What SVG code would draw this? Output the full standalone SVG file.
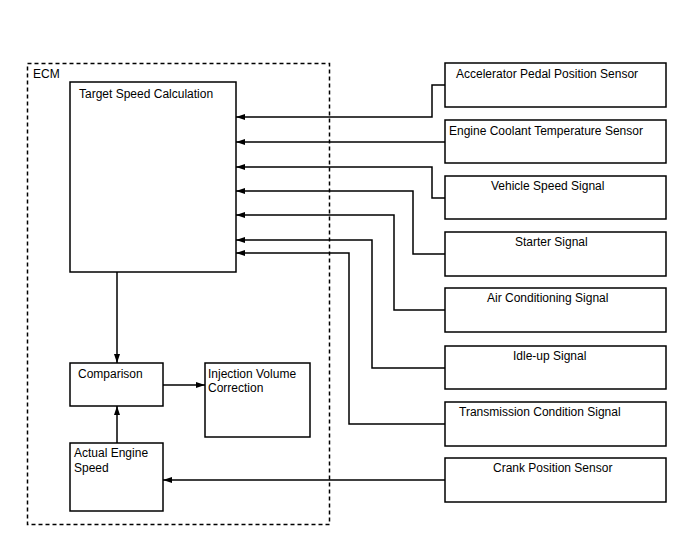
<svg xmlns="http://www.w3.org/2000/svg" width="688" height="560" viewBox="0 0 688 560">
<style>
.box{fill:#fff;stroke:#000;stroke-width:1.5}
.ecm{fill:none;stroke:#000;stroke-width:1.5;stroke-dasharray:4 3}
.t{font-family:"Liberation Sans",Arial,sans-serif;font-size:12px;fill:#000}
.c{fill:none;stroke:#000;stroke-width:1.5}
.a{marker-end:url(#ah)}
</style>
<defs>
<marker id="ah" markerWidth="10" markerHeight="8" refX="9" refY="4" orient="auto" markerUnits="userSpaceOnUse">
<path d="M0,1 L9,4 L0,7 Z" fill="#000"/>
</marker>
</defs>
<rect width="688" height="560" fill="#fff"/>
<g id="ecm">
<rect class="ecm" x="27.5" y="63.5" width="302" height="461"/>
<text class="t" x="33" y="78">ECM</text>
</g>
<g id="target">
<rect class="box" x="70" y="82" width="166" height="190"/>
<text class="t" x="79" y="98">Target Speed Calculation</text>
</g>
<g id="comparison">
<rect class="box" x="70" y="363" width="93" height="43"/>
<text class="t" x="78" y="378">Comparison</text>
</g>
<g id="injection">
<rect class="box" x="205" y="363" width="105" height="74"/>
<text class="t" x="208" y="378">Injection Volume</text>
<text class="t" x="208" y="392">Correction</text>
</g>
<g id="actual">
<rect class="box" x="70" y="443" width="93" height="68"/>
<text class="t" x="74" y="457">Actual Engine</text>
<text class="t" x="74" y="472">Speed</text>
</g>
<g id="s1">
<rect class="box" x="445" y="63" width="221" height="44"/>
<text class="t" x="456" y="78">Accelerator Pedal Position Sensor</text>
</g>
<g id="s2">
<rect class="box" x="445" y="120" width="221" height="43"/>
<text class="t" x="449" y="135">Engine Coolant Temperature Sensor</text>
</g>
<g id="s3">
<rect class="box" x="445" y="176" width="221" height="43"/>
<text class="t" x="491" y="190">Vehicle Speed Signal</text>
</g>
<g id="s4">
<rect class="box" x="445" y="232" width="221" height="44"/>
<text class="t" x="515" y="246">Starter Signal</text>
</g>
<g id="s5">
<rect class="box" x="445" y="288" width="221" height="44"/>
<text class="t" x="487" y="302">Air Conditioning Signal</text>
</g>
<g id="s6">
<rect class="box" x="445" y="346" width="221" height="43"/>
<text class="t" x="513" y="360">Idle-up Signal</text>
</g>
<g id="s7">
<rect class="box" x="445" y="402" width="221" height="44"/>
<text class="t" x="459" y="416">Transmission Condition Signal</text>
</g>
<g id="s8">
<rect class="box" x="445" y="458" width="221" height="44"/>
<text class="t" x="493" y="472">Crank Position Sensor</text>
</g>
<g id="connectors">
<polyline class="c a" points="445,85 432,85 432,117 236,117"/>
<polyline class="c a" points="445,142 236,142"/>
<polyline class="c a" points="445,198 432,198 432,167 236,167"/>
<polyline class="c a" points="445,254 413,254 413,191 236,191"/>
<polyline class="c a" points="445,310 394,310 394,215 236,215"/>
<polyline class="c a" points="445,368 372,368 372,240 236,240"/>
<polyline class="c a" points="445,424 349,424 349,253 236,253"/>
<polyline class="c a" points="445,480 163,480"/>
<polyline class="c a" points="117,272 117,363"/>
<polyline class="c a" points="163,385 205,385"/>
<polyline class="c a" points="117,443 117,406"/>
</g>
</svg>
